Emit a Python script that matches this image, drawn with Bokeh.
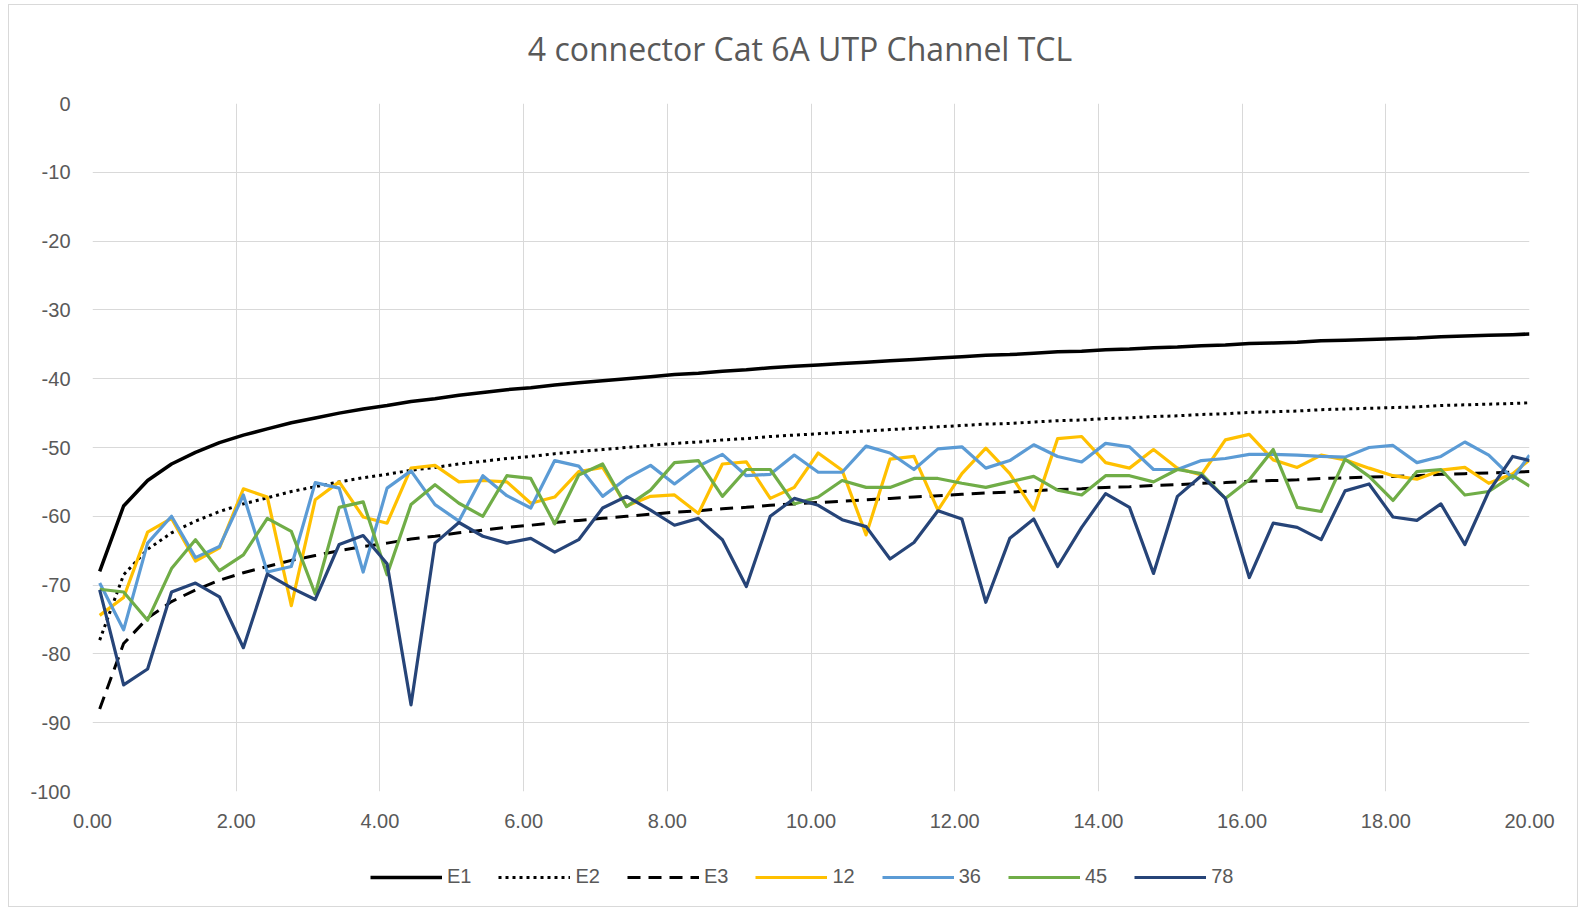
from bokeh.plotting import figure
from bokeh.layouts import column
from bokeh.models import Range1d, FixedTicker, Legend, LegendItem, PrintfTickFormatter, Label
from bokeh.embed import file_html
from bokeh.resources import INLINE

TITLE = "4 connector Cat 6A UTP Channel TCL"

freq = [0.1, 0.433, 0.767, 1.1, 1.433, 1.767, 2.1, 2.433, 2.767, 3.1,
        3.433, 3.767, 4.1, 4.433, 4.767, 5.1, 5.433, 5.767, 6.1, 6.433,
        6.767, 7.1, 7.433, 7.767, 8.1, 8.433, 8.767, 9.1, 9.433, 9.767,
        10.1, 10.433, 10.767, 11.1, 11.433, 11.767, 12.1, 12.433, 12.767, 13.1,
        13.433, 13.767, 14.1, 14.433, 14.767, 15.1, 15.433, 15.767, 16.1, 16.433,
        16.767, 17.1, 17.433, 17.767, 18.1, 18.433, 18.767, 19.1, 19.433, 19.767,
        20.0]

e1 = [-68.0, -58.5, -54.8, -52.4, -50.7, -49.3, -48.2, -47.3, -46.4, -45.7,
      -45.0, -44.4, -43.9, -43.3, -42.9, -42.4, -42.0, -41.6, -41.3, -40.9,
      -40.6, -40.3, -40.0, -39.7, -39.4, -39.2, -38.9, -38.7, -38.4, -38.2,
      -38.0, -37.8, -37.6, -37.4, -37.2, -37.0, -36.8, -36.6, -36.5, -36.3,
      -36.1, -36.0, -35.8, -35.7, -35.5, -35.4, -35.2, -35.1, -34.9, -34.8,
      -34.7, -34.5, -34.4, -34.3, -34.2, -34.1, -33.9, -33.8, -33.7, -33.6,
      -33.5]

e2 = [-78.0, -68.5, -64.8, -62.4, -60.7, -59.3, -58.2, -57.3, -56.4, -55.7,
      -55.0, -54.4, -53.9, -53.3, -52.9, -52.4, -52.0, -51.6, -51.3, -50.9,
      -50.6, -50.3, -50.0, -49.7, -49.4, -49.2, -48.9, -48.7, -48.4, -48.2,
      -48.0, -47.8, -47.6, -47.4, -47.2, -47.0, -46.8, -46.6, -46.5, -46.3,
      -46.1, -46.0, -45.8, -45.7, -45.5, -45.4, -45.2, -45.1, -44.9, -44.8,
      -44.7, -44.5, -44.4, -44.3, -44.2, -44.1, -43.9, -43.8, -43.7, -43.6,
      -43.5]

e3 = [-88.0, -78.5, -74.8, -72.4, -70.7, -69.3, -68.2, -67.3, -66.4, -65.7,
      -65.0, -64.4, -63.9, -63.3, -62.9, -62.4, -62.0, -61.6, -61.3, -60.9,
      -60.6, -60.3, -60.0, -59.7, -59.4, -59.2, -58.9, -58.7, -58.4, -58.2,
      -58.0, -57.8, -57.6, -57.4, -57.2, -57.0, -56.8, -56.6, -56.5, -56.3,
      -56.1, -56.0, -55.8, -55.7, -55.5, -55.4, -55.2, -55.1, -54.9, -54.8,
      -54.7, -54.5, -54.4, -54.3, -54.2, -54.1, -53.9, -53.8, -53.7, -53.6,
      -53.5]

pair12 = [-74.4, -71.8, -62.3, -60.3, -66.5, -64.6, -56.0, -57.2, -73.0, -57.6,
          -55.0, -60.1, -61.0, -53.0, -52.6, -55.0, -54.8, -55.0, -58.1, -57.2,
          -53.5, -52.9, -58.5, -57.1, -56.9, -59.6, -52.4, -52.1, -57.4, -55.8,
          -50.8, -53.3, -62.7, -51.7, -51.3, -59.1, -53.8, -50.1, -53.8, -59.1,
          -48.7, -48.4, -52.2, -53.0, -50.3, -53.0, -54.0, -48.9, -48.1, -51.8,
          -52.9, -51.1, -51.8, -53.0, -54.1, -54.6, -53.3, -52.9, -55.2, -53.8,
          -51.8]

pair36 = [-69.7, -76.5, -63.9, -60.0, -66.0, -64.4, -56.9, -68.1, -67.3, -55.1,
          -55.9, -68.1, -55.9, -53.4, -58.3, -60.7, -54.1, -57.0, -58.8, -51.9,
          -52.7, -57.1, -54.5, -52.6, -55.3, -52.7, -51.0, -54.1, -53.9, -51.1,
          -53.6, -53.6, -49.8, -50.8, -53.2, -50.2, -49.9, -53.0, -51.9, -49.6,
          -51.3, -52.1, -49.4, -49.9, -53.2, -53.2, -51.9, -51.6, -51.0, -51.0,
          -51.1, -51.3, -51.4, -50.0, -49.7, -52.2, -51.3, -49.2, -51.1, -54.5,
          -51.1]

pair45 = [-70.6, -71.0, -75.1, -67.6, -63.4, -67.9, -65.6, -60.3, -62.2, -71.3,
          -58.7, -57.9, -68.5, -58.3, -55.4, -58.1, -60.0, -54.1, -54.5, -61.1,
          -54.0, -52.4, -58.6, -56.2, -52.2, -51.9, -57.1, -53.2, -53.2, -58.2,
          -57.2, -54.8, -55.8, -55.8, -54.5, -54.5, -55.2, -55.8, -55.0, -54.2,
          -56.2, -56.9, -54.1, -54.1, -55.0, -53.2, -53.8, -57.4, -54.7, -50.3,
          -58.7, -59.3, -51.7, -54.2, -57.7, -53.5, -53.2, -56.9, -56.4, -54.1,
          -55.6]

pair78 = [-70.7, -84.5, -82.2, -71.0, -69.7, -71.7, -79.1, -68.4, -70.4, -72.1,
          -64.1, -62.8, -66.9, -87.4, -63.9, -60.9, -62.9, -63.9, -63.2, -65.2,
          -63.4, -58.8, -57.1, -59.1, -61.3, -60.3, -63.4, -70.2, -60.0, -57.4,
          -58.4, -60.5, -61.5, -66.2, -63.8, -59.2, -60.4, -72.5, -63.2, -60.4,
          -67.3, -61.6, -56.7, -58.7, -68.3, -57.1, -54.1, -57.4, -68.9, -61.0,
          -61.6, -63.4, -56.3, -55.3, -60.1, -60.6, -58.2, -64.1, -56.4, -51.3,
          -51.9]

series_names = ["E1", "E2", "E3", "12", "36", "45", "78"]
x_ticks = [0, 2, 4, 6, 8, 10, 12, 14, 16, 18, 20]
y_ticks = [0, -10, -20, -30, -40, -50, -60, -70, -80, -90, -100]

FONT = "Liberation Sans"
TXT = "#595959"
W = 1568
TH = 80

# title strip
head = figure(width=W, height=TH, output_backend="svg", toolbar_location=None,
              x_range=Range1d(0, W), y_range=Range1d(0, TH),
              x_axis_location=None, y_axis_location=None, title_location=None,
              min_border=0, min_border_left=0, min_border_right=0,
              min_border_top=0, min_border_bottom=0)
head.outline_line_color = None
head.xgrid.visible = False
head.ygrid.visible = False
head.add_layout(Label(x=772, y=TH - 43, text=TITLE, text_align="center",
                      text_baseline="middle", text_font="Open Sans",
                      text_font_size="32px", text_color=TXT))

p = figure(width=W, height=761, output_backend="svg", toolbar_location=None,
           x_range=Range1d(0, 20), y_range=Range1d(-100, 0), title_location=None,
           min_border_left=83, min_border_right=48, min_border_top=18,
           min_border_bottom=55)
p.outline_line_color = None
p.background_fill_color = "white"
p.border_fill_color = "white"

styles = [
    dict(color="black", line_width=3.5, line_dash="solid"),
    dict(color="black", line_width=3, line_dash="3 4"),
    dict(color="black", line_width=3, line_dash="13 8"),
    dict(color="#FFC000", line_width=3.2, line_dash="solid"),
    dict(color="#5B9BD5", line_width=3.2, line_dash="solid"),
    dict(color="#70AD47", line_width=3.2, line_dash="solid"),
    dict(color="#264478", line_width=3.2, line_dash="solid"),
]
data = [e1, e2, e3, pair12, pair36, pair45, pair78]

for ys, st in zip(data, styles):
    p.line(freq, ys, line_color=st["color"], line_width=st["line_width"],
           line_dash=st["line_dash"], line_join="round")

for ax in (p.xaxis[0], p.yaxis[0]):
    ax.axis_line_color = None
    ax.major_tick_line_color = None
    ax.minor_tick_line_color = None
    ax.major_label_text_font = FONT
    ax.major_label_text_font_size = "20px"
    ax.major_label_text_color = TXT

p.xaxis.ticker = FixedTicker(ticks=x_ticks)
p.xaxis.formatter = PrintfTickFormatter(format="%.2f")
p.xaxis.major_label_standoff = 16
p.yaxis.ticker = FixedTicker(ticks=y_ticks)
p.yaxis.formatter = PrintfTickFormatter(format="%d")
p.yaxis.major_label_standoff = 16

p.xgrid.ticker = FixedTicker(ticks=x_ticks)
p.ygrid.ticker = FixedTicker(ticks=y_ticks)
for g in (p.xgrid[0], p.ygrid[0]):
    g.grid_line_color = "#d9d9d9"
    g.grid_line_width = 1

# legend strip below the chart
leg = figure(width=W, height=60, output_backend="svg", toolbar_location=None,
             x_range=Range1d(0, 1), y_range=Range1d(0, 1), title_location=None,
             x_axis_location=None, y_axis_location=None,
             min_border=0, min_border_left=0, min_border_right=0,
             min_border_top=0, min_border_bottom=0)
leg.outline_line_color = None
leg.xgrid.visible = False
leg.ygrid.visible = False

items = []
for name, st in zip(series_names, styles):
    r = leg.line([5, 6], [5, 6], line_color=st["color"], line_width=st["line_width"],
                 line_dash=st["line_dash"])
    items.append(LegendItem(label=name, renderers=[r]))

legend = Legend(items=items, orientation="horizontal", location=(278, 18),
                glyph_width=72, glyph_height=20, label_standoff=5, spacing=27,
                padding=0, margin=0, border_line_color=None,
                background_fill_alpha=0, label_text_font=FONT,
                label_text_font_size="20px", label_text_color=TXT)
leg.add_layout(legend)

layout = column(head, p, leg)
layout.margin = (4, 0, 0, 8)
layout.styles = {"border": "1px solid #d9d9d9"}

open("out.html", "w").write(file_html(layout, INLINE))
